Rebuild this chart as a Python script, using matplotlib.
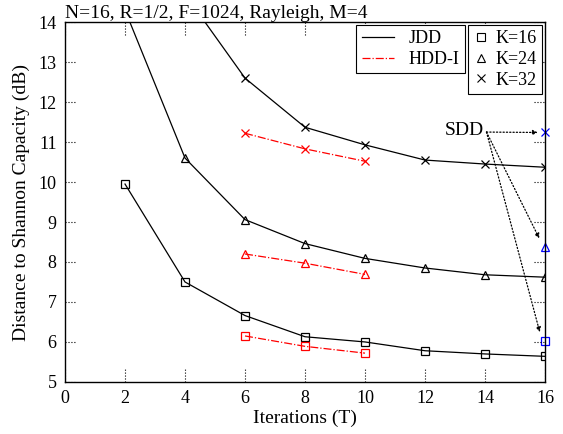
import matplotlib.pyplot as plt
from matplotlib.lines import Line2D

plt.rcParams['font.family'] = ['Liberation Serif', 'DejaVu Serif']

# JDD curves
t_jdd16 = [2, 4, 6, 8, 10, 12, 14, 16]
jdd16 = [9.95, 7.5, 6.66, 6.13, 6.0, 5.78, 5.7, 5.64]
t_jdd24 = [2, 4, 6, 8, 10, 12, 14, 16]
jdd24 = [14.3, 10.6, 9.06, 8.46, 8.09, 7.85, 7.68, 7.62]
t_jdd32 = [4, 6, 8, 10, 12, 14, 16]
jdd32 = [14.7, 12.6, 11.37, 10.93, 10.55, 10.45, 10.37]

# HDD-I curves
t_hdd = [6, 8, 10]
hdd16 = [6.15, 5.89, 5.72]
hdd24 = [8.2, 7.97, 7.69]
hdd32 = [11.22, 10.83, 10.52]

# SDD points at T=16
t_sdd = 16
sdd = {'s': 6.03, '^': 8.38, 'x': 11.24}

xticks = list(range(0, 17, 2))
yticks = list(range(5, 15))

fig = plt.figure(figsize=(5.63, 4.34), dpi=100)
ax = fig.add_axes([0.1155, 0.12, 0.8525, 0.829])

mk = dict(markersize=6, markerfacecolor='none', markeredgewidth=0.9)
ax.plot(t_jdd16, jdd16, 'k-', marker='s', lw=0.9, **mk)
ax.plot(t_jdd24, jdd24, 'k-', marker='^', lw=0.9, **mk)
ax.plot(t_jdd32, jdd32, 'k-', marker='x', lw=0.9, **mk)
ax.plot(t_hdd, hdd16, color='red', ls='-.', marker='s', lw=0.9, **mk)
ax.plot(t_hdd, hdd24, color='red', ls='-.', marker='^', lw=0.9, **mk)
ax.plot(t_hdd, hdd32, color='red', ls='-.', marker='x', lw=0.9, **mk)
for m, v in sdd.items():
    ax.plot([t_sdd], [v], color='blue', marker=m, clip_on=False, **mk)

# SDD annotation
ax.text(13.3, 11.3, 'SDD', fontsize=14, ha='center', va='center')
for v in sdd.values():
    ax.annotate('', xy=(t_sdd - 0.15, v + (0.15 if v < 11 else 0)), xytext=(14.05, 11.25),
                arrowprops=dict(arrowstyle='-|>', ls=':', lw=0.9, color='k',
                                mutation_scale=7, shrinkA=0, shrinkB=2))

ax.set_xlim(0, 16)
ax.set_ylim(5, 14)
ax.set_xticks(xticks)
ax.set_yticks(yticks)
ax.tick_params(length=0, labelsize=13, pad=6)
# dotted tick marks on all four sides
tx = ax.get_xaxis_transform()
ty = ax.get_yaxis_transform()
ax.vlines(xticks, 0, 0.035, transform=tx, colors='k', linestyles=':', lw=0.8)
ax.vlines(xticks, 0.965, 1, transform=tx, colors='k', linestyles=':', lw=0.8)
ax.hlines(yticks, 0, 0.022, transform=ty, colors='k', linestyles=':', lw=0.8)
ax.hlines(yticks, 0.978, 1, transform=ty, colors='k', linestyles=':', lw=0.8)
for s in ax.spines.values():
    s.set_linewidth(1.0)

ax.set_xlabel('Iterations (T)', fontsize=14, labelpad=2)
ax.set_ylabel('Distance to Shannon Capacity (dB)', fontsize=14, labelpad=6)
ax.set_title('N=16, R=1/2, F=1024, Rayleigh, M=4', fontsize=14, loc='left', pad=2)

h1 = [Line2D([], [], color='k', lw=0.9),
      Line2D([], [], color='red', ls='-.', lw=0.9)]
leg1 = ax.legend(h1, ['JDD', 'HDD-I'], loc='upper right', bbox_to_anchor=(0.833, 0.992),
                 borderaxespad=0, fontsize=13, fancybox=False, edgecolor='k', framealpha=1,
                 handlelength=1.8, borderpad=0.3, labelspacing=0.2)
leg1.get_frame().set_linewidth(0.8)
ax.add_artist(leg1)
h2 = [Line2D([], [], color='k', ls='none', marker=m, markersize=6,
             markerfacecolor='none', markeredgewidth=0.8) for m in ['s', '^', 'x']]
leg2 = ax.legend(h2, ['K=16', 'K=24', 'K=32'], loc='upper right', bbox_to_anchor=(0.994, 0.992),
                 borderaxespad=0, fontsize=13, fancybox=False, edgecolor='k', framealpha=1,
                 handlelength=0.8, handletextpad=0.4, borderpad=0.3, labelspacing=0.2)
leg2.get_frame().set_linewidth(0.8)

fig.savefig('out.png', dpi=100)
